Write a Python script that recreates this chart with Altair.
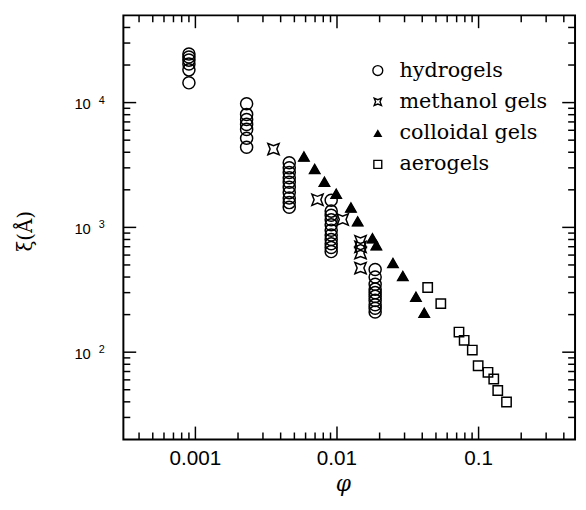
import altair as alt
import pandas as pd

W, H = 458, 430

series_names = ["hydrogels", "methanol gels", "colloidal gels", "aerogels"]

# hydrogels: vertical clusters at fixed phi
hydro_phi = [0.0009, 0.0023, 0.0046, 0.0091, 0.0186]
hydro_xi = [
    [24500, 23200, 21900, 20400, 18300, 14400],
    [9800, 8040, 7330, 6690, 6100, 5180, 4390],
    [3300, 3000, 2750, 2500, 2300, 2100, 1900, 1720, 1580, 1450],
    [1650, 1350, 1250, 1150, 1050, 950, 870, 800, 740, 690, 640],
    [460, 400, 350, 320, 300, 280, 260, 240, 225, 210],
]

methanol_phi = [0.00356, 0.00728, 0.01097, 0.01466, 0.01466, 0.01466, 0.01466]
methanol_xi = [4240, 1667, 1157, 774, 698, 622, 472]

colloid_phi = [0.00584, 0.00696, 0.00815, 0.00987, 0.01254, 0.0140, 0.01779,
               0.01897, 0.02484, 0.02916, 0.0361, 0.0413]
colloid_xi = [3700, 2940, 2320, 1860, 1442, 1117, 818, 720, 518, 408, 278, 207]

aero_phi = [0.0437, 0.0541, 0.0727, 0.0791, 0.0903, 0.0993, 0.1165, 0.128,
            0.1366, 0.1575]
aero_xi = [330, 245, 145, 124.5, 104, 77.8, 69, 61, 49.3, 39.9]

x_major = [0.001, 0.01, 0.1]
x_major_labels = ["0.001", "0.01", "0.1"]
x_minor = [0.0004, 0.0005, 0.0006, 0.0007, 0.0008, 0.0009,
           0.002, 0.003, 0.004, 0.005, 0.006, 0.007, 0.008, 0.009,
           0.02, 0.03, 0.04, 0.05, 0.06, 0.07, 0.08, 0.09,
           0.2, 0.3, 0.4]
y_major = [100, 1000, 10000]
y_major_base = ["10", "10", "10"]
y_major_exp = ["2", "3", "4"]
y_minor = [30, 40, 50, 60, 70, 80, 90,
           200, 300, 400, 500, 600, 700, 800, 900,
           2000, 3000, 4000, 5000, 6000, 7000, 8000, 9000,
           20000, 30000, 40000]
x_title = "\u03c6"
y_title = "\u03be(\u00c5)"

rows = []
for p, ys in zip(hydro_phi, hydro_xi):
    for v in ys:
        rows.append({"phi": p, "xi": v, "series": "hydrogels"})
for p, v in zip(methanol_phi, methanol_xi):
    rows.append({"phi": p, "xi": v, "series": "methanol gels"})
for p, v in zip(colloid_phi, colloid_xi):
    rows.append({"phi": p, "xi": v, "series": "colloidal gels"})
for p, v in zip(aero_phi, aero_xi):
    rows.append({"phi": p, "xi": v, "series": "aerogels"})
df = pd.DataFrame(rows)

xscale = alt.Scale(type="log", domain=[0.00031, 0.48], nice=False)
yscale = alt.Scale(type="log", domain=[20, 50000], nice=False)

star = "M -1 -1 L 0 -0.6 L 1 -1 L 0.6 0 L 1 1 L 0 0.6 L -1 1 L -0.6 0 Z"
shape_scale = alt.Scale(domain=series_names,
                        range=["circle", star, "triangle-up", "square"])

points = alt.Chart(df).mark_point(strokeWidth=1.5, opacity=1, fillOpacity=0).encode(
    x=alt.X("phi:Q", scale=xscale, axis=None),
    y=alt.Y("xi:Q", scale=yscale, axis=None),
    shape=alt.Shape("series:N", scale=shape_scale, legend=None),
    size=alt.Size("series:N",
                  scale=alt.Scale(domain=series_names, range=[150, 90, 135, 85]),
                  legend=None),
    stroke=alt.value("black"),
)
# filled triangles for the colloidal gels
tri = alt.Chart(df).transform_filter(
    alt.datum.series == "colloidal gels"
).mark_point(filled=True, opacity=1, color="black", shape="triangle-up", size=135).encode(
    x=alt.X("phi:Q", scale=xscale, axis=None),
    y=alt.Y("xi:Q", scale=yscale, axis=None),
)


def tick_layer(vals, axis, side, length):
    d = pd.DataFrame({"v": vals})
    base = alt.Chart(d).mark_rule(color="black", strokeWidth=1.5)
    if axis == "x":
        enc = {"x": alt.X("v:Q", scale=xscale, axis=None)}
        if side == "bottom":
            enc.update(y=alt.value(H), y2=alt.value(H - length))
        else:
            enc.update(y=alt.value(0), y2=alt.value(length))
    else:
        enc = {"y": alt.Y("v:Q", scale=yscale, axis=None)}
        if side == "left":
            enc.update(x=alt.value(0), x2=alt.value(length))
        else:
            enc.update(x=alt.value(W - length), x2=alt.value(W))
    return base.encode(**enc)


layers = [points, tri]
for side in ["bottom", "top"]:
    layers.append(tick_layer(x_major, "x", side, 13))
    layers.append(tick_layer(x_minor, "x", side, 7))
for side in ["left", "right"]:
    layers.append(tick_layer(y_major, "y", side, 13))
    layers.append(tick_layer(y_minor, "y", side, 7))

# tick labels, placed through the scales
xl = pd.DataFrame({"v": x_major, "label": x_major_labels})
layers.append(alt.Chart(xl).mark_text(
    baseline="middle", align="center", font="Liberation Sans", fontSize=21,
    color="black").encode(
    x=alt.X("v:Q", scale=xscale, axis=None), y=alt.value(H + 20), text="label:N"))

yl = pd.DataFrame({"v": y_major, "base": y_major_base, "exp": y_major_exp})
layers.append(alt.Chart(yl).mark_text(
    baseline="middle", align="right", font="Liberation Sans", fontSize=15,
    color="black", dy=2).encode(
    y=alt.Y("v:Q", scale=yscale, axis=None), x=alt.value(-33), text="base:N"))
layers.append(alt.Chart(yl).mark_text(
    baseline="middle", align="left", font="Liberation Sans", fontSize=11,
    color="black", dy=-2).encode(
    y=alt.Y("v:Q", scale=yscale, axis=None), x=alt.value(-25), text="exp:N"))

# axis titles
layers.append(alt.Chart(pd.DataFrame({"t": [x_title]})).mark_text(
    baseline="middle", align="center", font="DejaVu Serif", fontStyle="italic",
    fontSize=22, color="black").encode(
    x=alt.value(223), y=alt.value(H + 45), text="t:N"))
layers.append(alt.Chart(pd.DataFrame({"t": [y_title]})).mark_text(
    baseline="middle", align="center", font="DejaVu Serif", angle=270,
    fontSize=20, color="black").encode(
    x=alt.value(-99), y=alt.value(219), text="t:N"))

# legend (drawn by hand, one row per series)
legend_sizes = [100, 55, 85, 64]
for i, name in enumerate(series_names):
    d = pd.DataFrame({"series": [name]})
    ry = 56 + 31.7 * i
    filled = name == "colloidal gels"
    sym = alt.Chart(d).mark_point(
        filled=filled, opacity=1, strokeWidth=1.4,
        color="black",
        fillOpacity=1 if filled else 0,
    ).encode(
        x=alt.value(258), y=alt.value(ry),
        shape=alt.Shape("series:N", scale=shape_scale, legend=None),
        size=alt.value(legend_sizes[i]),
    )
    txt = alt.Chart(d).mark_text(
        align="left", baseline="middle", font="DejaVu Serif",
        fontSize=21, color="black",
    ).encode(x=alt.value(280), y=alt.value(ry), text="series:N")
    layers += [sym, txt]

chart = alt.layer(*layers).properties(
    width=W, height=H,
    autosize=alt.AutoSizeParams(type="none"),
    padding={"left": 117, "top": 4, "right": 3, "bottom": 60},
).configure(background="white").configure_view(stroke="black", strokeWidth=2)

chart.save("out.html", embed_options={"renderer": "svg", "actions": False})
